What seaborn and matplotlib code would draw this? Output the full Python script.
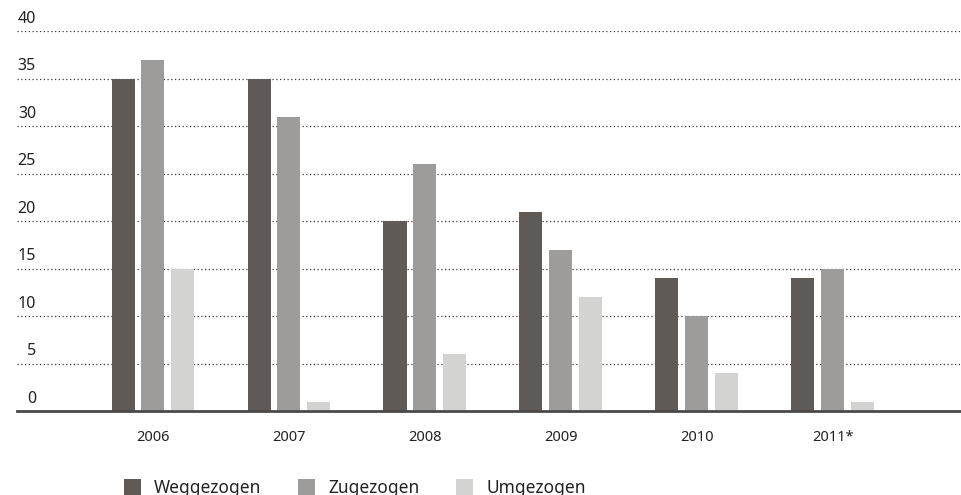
import matplotlib
matplotlib.use("Agg")
import matplotlib.pyplot as plt
import seaborn as sns
import pandas as pd

years = ["2006", "2007", "2008", "2009", "2010", "2011*"]
weggezogen = [35, 35, 20, 21, 14, 14]
zugezogen = [37, 31, 26, 17, 10, 15]
umgezogen = [15, 1, 6, 12, 4, 1]
series_names = ["Weggezogen", "Zugezogen", "Umgezogen"]
colors = ["#5f5a55", "#9d9c9a", "#d3d3d2"]
y_ticks = [0, 5, 10, 15, 20, 25, 30, 35, 40]

df = pd.DataFrame({
    "Jahr": years * 3,
    "Wert": weggezogen + zugezogen + umgezogen,
    "Serie": [series_names[0]] * 6 + [series_names[1]] * 6 + [series_names[2]] * 6,
})

sns.set_style("white")
plt.rcParams["font.family"] = ["Noto Sans", "DejaVu Sans"]

fig = plt.figure(figsize=(9.62, 4.95), dpi=100)
ax = fig.add_axes([17 / 962, 84 / 495, 945 / 962, 380 / 495])

sns.barplot(data=df, x="Jahr", y="Wert", hue="Serie", palette=colors,
            width=0.66, gap=0.23, ax=ax, saturation=1, legend=True,
            edgecolor="none", linewidth=0)

ax.set_xlim(-1.0, 5.95)
ax.set_ylim(0, 40)
ax.set_xlabel("")
ax.set_ylabel("")
ax.set_yticks([])
for s in ["left", "right", "top"]:
    ax.spines[s].set_visible(False)
ax.spines["bottom"].set_color("#4a4a4a")
ax.spines["bottom"].set_linewidth(2)

for t in y_ticks:
    if t > 0:
        ax.axhline(t, color="#3a3a3a", linestyle=(0, (1, 2)), linewidth=0.9, zorder=0)
    ax.text(19 / 945, t + 0.45, str(t), transform=ax.get_yaxis_transform(),
            ha="right", va="bottom", fontsize=11.5, color="#222222")

ax.tick_params(axis="x", length=0, pad=14, labelsize=10.5, colors="#222222")

handles, labels = ax.get_legend_handles_labels()
ax.get_legend().remove()
fig.legend(handles, labels, ncol=3, loc="lower left",
           bbox_to_anchor=(108 / 962, -0.035), frameon=False,
           handlelength=1.0, handleheight=1.0, handletextpad=0.75,
           columnspacing=2.1, fontsize=12.5, labelcolor="#222222")

fig.savefig("out.png", dpi=100)
